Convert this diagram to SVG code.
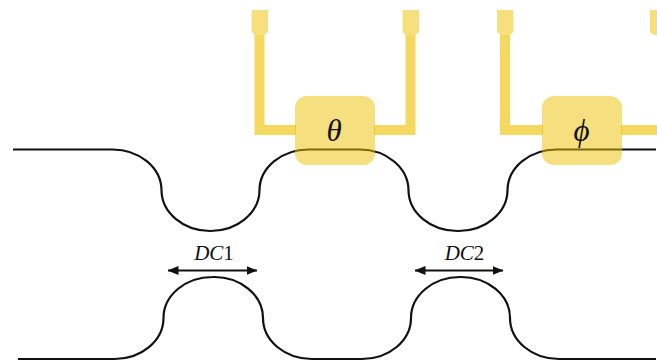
<svg xmlns="http://www.w3.org/2000/svg" width="657" height="362" viewBox="0 0 657 362">
<style>
.wg{fill:none;stroke:#111;stroke-width:2.2}
.wire{fill:none;stroke:#f5d85f;stroke-width:10}
.pad{fill:#f6df7c}
.box{fill:#edbf00;fill-opacity:.5}
.dim{fill:none;stroke:#111;stroke-width:1.8;marker-start:url(#ah);marker-end:url(#ah)}
.sym{font-family:"Liberation Serif","DejaVu Serif",serif;font-style:italic;fill:#111;text-anchor:middle}
.lab{font-family:"Liberation Serif","DejaVu Serif",serif;font-size:21px;fill:#111;text-anchor:middle}
.i{font-style:italic}
</style>
<defs>
<marker id="ah" viewBox="0 0 11 9" refX="10.500" refY="4.500" markerUnits="userSpaceOnUse" markerWidth="11" markerHeight="9" orient="auto-start-reverse"><path d="M0 0L11 4.500L0 9Z" fill="#111"/></marker>
<path id="pad" d="M0 10H16.500V32L13 35H3.500L0 32Z"/>
</defs>
<g id="heaters">
<g id="theta-wires">
<path class="wire" d="M259.500 34V130H296"/>
<path class="wire" d="M410.500 34V130H374"/>
<use href="#pad" class="pad" x="251.500"/>
<use href="#pad" class="pad" x="402.500"/>
</g>
<g id="phi-wires">
<path class="wire" d="M505 34V130H543"/>
<path class="wire" d="M657 130H621"/>
<use href="#pad" class="pad" x="497"/>
<use href="#pad" class="pad" x="650"/>
</g>
</g>
<g id="connectors">
<path class="wg" d="M13 149.500H112A49 41 0 0 1 161.500 190A49 41 0 0 0 210 231A49 41 0 0 0 259.500 190A49 41 0 0 1 309 149.500H360A49 41 0 0 1 408.500 190A49 41 0 0 0 458 231A49 41 0 0 0 507.500 190A49 41 0 0 1 557 149.500H656"/>
<path class="wg" d="M18 359H114A49 41 0 0 0 163.500 318A49 41 0 0 1 212.500 277A49 41 0 0 1 263 318A49 41 0 0 0 312 359H362A49 41 0 0 0 411 318A49 41 0 0 1 460 277A49 41 0 0 1 510 318A49 41 0 0 0 559 359H656"/>
<path class="dim" d="M168 270.500H257"/>
<path class="dim" d="M415 270.500H503"/>
</g>
<g id="theta"><rect class="box" x="295" y="96" width="80" height="69" rx="12"/><text class="sym" x="334" y="141" font-size="31">θ</text></g>
<g id="phi"><rect class="box" x="542" y="96" width="80" height="69" rx="12"/><text class="sym" x="581.500" y="141" font-size="31">ϕ</text></g>
<g id="dc1"><text class="lab" x="214" y="260"><tspan class="i">DC</tspan>1</text></g>
<g id="dc2"><text class="lab" x="464.500" y="260"><tspan class="i">DC</tspan>2</text></g>
</svg>
